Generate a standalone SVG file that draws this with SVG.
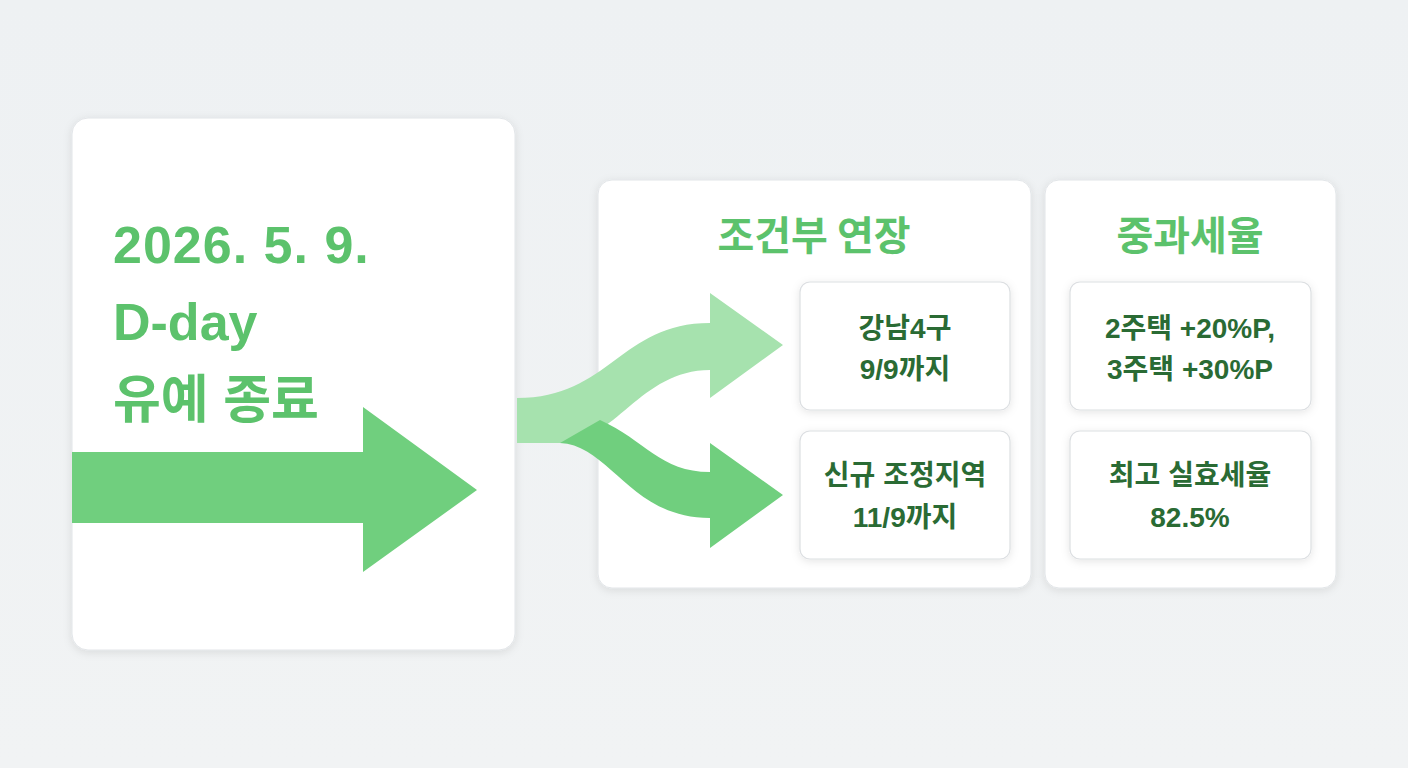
<svg xmlns="http://www.w3.org/2000/svg" width="1408" height="768" viewBox="0 0 1408 768">
<defs>
<linearGradient id="bg" x1="0" y1="0" x2="0" y2="1"><stop offset="0" stop-color="#eef1f3"/><stop offset="1" stop-color="#f1f3f4"/></linearGradient>
<filter id="sh" x="-10%" y="-10%" width="120%" height="120%"><feDropShadow dx="0" dy="2" stdDeviation="4" flood-color="#000" flood-opacity="0.10"/></filter>
<style>
.card{fill:#fff;stroke:#e2e5e8;stroke-width:1;filter:url(#sh)}
.box{fill:#fff;stroke:#dcdfe2;stroke-width:1.2;filter:url(#sh)}
.big{font-family:"Liberation Sans","Noto Sans CJK KR",sans-serif;font-weight:700;fill:#5cc26c;font-size:52px}
.title{font-family:"Noto Sans CJK KR",sans-serif;font-weight:700;fill:#5cc26c;font-size:40px;text-anchor:middle}
.t{font-family:"Liberation Sans","Noto Sans CJK KR",sans-serif;font-weight:700;fill:#2a6b34;font-size:28px;text-anchor:middle}
</style>
</defs>
<rect width="1408" height="768" fill="url(#bg)"/>
<g id="left-card">
<rect class="card" x="72" y="118" width="443" height="532" rx="16"/>
<path d="M72,452 H363 V407 L477,490 L363,572 V523 H72 Z" fill="#70cf7e"/>
<text class="big" x="113" y="263" letter-spacing="1">2026. 5. 9.</text>
<text class="big" x="113" y="340">D-day</text>
<text class="big" x="113" y="418" font-family="Noto Sans CJK KR,sans-serif" font-size="50">유예 종료</text>
</g>
<g id="panel-extension">
<rect class="card" x="598" y="180" width="433" height="408" rx="14"/>
<text class="title" x="814" y="250">조건부 연장</text>
</g>
<g id="panel-tax">
<rect class="card" x="1045" y="180" width="291" height="408" rx="14"/>
<text class="title" x="1190" y="250">중과세율</text>
</g>
<g id="connectors">
<path d="M517,398 C610,398 620,323 710,323 L710,293 L783,345 L710,398 L710,370 C640,370 615,443 560,443 L517,443 Z" fill="#a6e2ae"/>
<path d="M600,420 C645,440 660,472 710,472 L710,443 L783,495 L710,548 L710,518 C630,518 610,445 560,443 Z" fill="#70cf7e"/>
</g>
<g id="node-gangnam">
<rect class="box" x="800" y="282" width="210" height="128" rx="10"/>
<text class="t" x="905" y="338">강남4구</text>
<text class="t" x="905" y="379">9/9까지</text>
</g>
<g id="node-new">
<rect class="box" x="800" y="431" width="210" height="128" rx="10"/>
<text class="t" x="905" y="485">신규 조정지역</text>
<text class="t" x="905" y="527">11/9까지</text>
</g>
<g id="node-rate">
<rect class="box" x="1070" y="282" width="241" height="128" rx="10"/>
<text class="t" x="1190" y="338">2주택 +20%P,</text>
<text class="t" x="1190" y="379">3주택 +30%P</text>
</g>
<g id="node-max">
<rect class="box" x="1070" y="431" width="241" height="128" rx="10"/>
<text class="t" x="1190" y="485">최고 실효세율</text>
<text class="t" x="1190" y="527">82.5%</text>
</g>
</svg>
